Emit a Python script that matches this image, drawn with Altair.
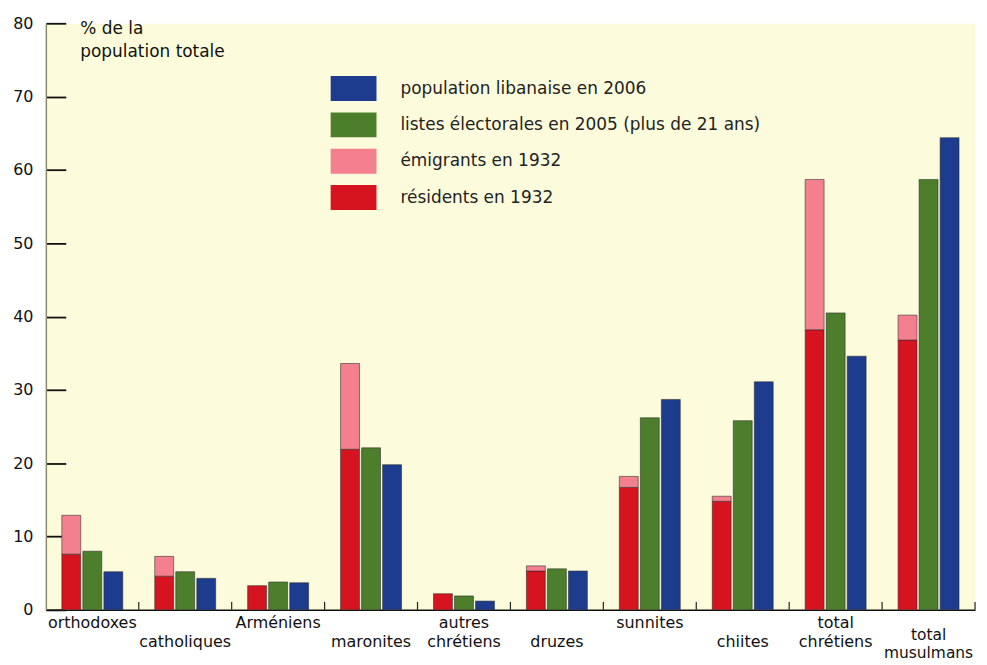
import altair as alt
import pandas as pd

# ---------------- data ----------------
categories = ["orthodoxes", "catholiques", "Arméniens", "maronites", "autres chrétiens",
              "druzes", "sunnites", "chiites", "total chrétiens", "total musulmans"]
label_lines = [["orthodoxes"], ["", "catholiques"], ["Arméniens"], ["", "maronites"],
               ["autres", "chrétiens"], ["", "druzes"], ["sunnites"], ["", "chiites"],
               ["total", "chrétiens"], ["total", "musulmans"]]
residents_1932 = [7.6, 4.6, 3.3, 21.9, 2.2, 5.3, 16.7, 14.8, 38.2, 36.8]
emigrants_1932 = [5.3, 2.7, 0.0, 11.7, 0.0, 0.7, 1.5, 0.7, 20.5, 3.4]
electoral_2005 = [8.0, 5.2, 3.8, 22.1, 1.9, 5.6, 26.2, 25.8, 40.5, 58.7]
population_2006 = [5.2, 4.3, 3.7, 19.8, 1.2, 5.3, 28.7, 31.1, 34.6, 64.4]
series_names = ["population libanaise en 2006",
                "listes électorales en 2005 (plus de 21 ans)",
                "émigrants en 1932",
                "résidents en 1932"]
series_colors = ["#1e3c8e", "#4c7e2c", "#f4808f", "#d6141f"]
groups = ["1932", "2005", "2006"]
y_ticks = [0, 10, 20, 30, 40, 50, 60, 70, 80]
axis_title = ["% de la", "population totale"]

# ---------------- tables ----------------
rows = []
for i, c in enumerate(categories):
    r, e = residents_1932[i], emigrants_1932[i]
    rows.append(dict(cat=c, grp=groups[0], series=series_names[3], lo=0.0, hi=r))
    if e > 0:
        rows.append(dict(cat=c, grp=groups[0], series=series_names[2], lo=r, hi=r + e))
    rows.append(dict(cat=c, grp=groups[1], series=series_names[1], lo=0.0, hi=electoral_2005[i]))
    rows.append(dict(cat=c, grp=groups[2], series=series_names[0], lo=0.0, hi=population_2006[i]))
df = pd.DataFrame(rows)
labels_df = pd.DataFrame({"cat": categories, "lines": label_lines})

W, H = 933, 589
FONT = "DejaVu Sans"
LAST = categories[-1]

x_scale = alt.Scale(domain=categories, paddingInner=0, paddingOuter=0)
y_scale = alt.Scale(domain=[0, 80], nice=False)

bars = alt.Chart(df).mark_bar(stroke="#2a2a2a", strokeWidth=0.8, strokeOpacity=0.7).encode(
    x=alt.X("cat:N", scale=x_scale, sort=categories,
            axis=alt.Axis(labels=False, ticks=False, title=None,
                          domainColor="#111111", domainWidth=1.5)),
    xOffset=alt.XOffset("grp:N", scale=alt.Scale(domain=groups, paddingInner=0.1, paddingOuter=0.76)),
    y=alt.Y("lo:Q", scale=y_scale,
            axis=alt.Axis(values=y_ticks, tickSize=0,
                          # short inward ticks drawn as dashed grid segments
                          grid=True, gridDash=[20, 4000], gridColor="#111111",
                          gridWidth=1.8, gridOpacity=1,
                          labelFont=FONT, labelFontSize=16, labelColor="#111111", labelPadding=13,
                          domainColor="#8a8a70", domainWidth=1.5,
                          title=axis_title, titleAngle=0, titleAlign="left",
                          titleBaseline="alphabetic", titleX=34, titleY=10,
                          titleFont=FONT, titleFontSize=17, titleFontWeight="normal",
                          titleColor="#111111", titleLineHeight=23)),
    y2="hi:Q",
    color=alt.Color("series:N",
                    scale=alt.Scale(domain=series_names, range=series_colors),
                    legend=alt.Legend(title=None, orient="none", legendX=296.5, legendY=53,
                                      symbolType="M-1.84,-1L1.84,-1L1.84,1L-1.84,1Z",
                                      symbolSize=625, symbolStrokeWidth=0, symbolOpacity=1,
                                      labelFont=FONT, labelFontSize=17, labelColor="#222222",
                                      labelOffset=34.5, rowPadding=11.5, padding=0,
                                      labelLimit=500)),
)

separators = alt.Chart(labels_df).mark_rule(color="#222222", strokeWidth=1.2).encode(
    x=alt.X("cat:N", bandPosition=1, scale=x_scale),
    y=alt.value(H),
    y2=alt.value(H - 8),
)

texts_main = alt.Chart(labels_df).transform_filter(
    alt.datum.cat != LAST
).mark_text(font=FONT, fontSize=16, baseline="alphabetic",
            lineHeight=19, color="#111111", align="center").encode(
    x=alt.X("cat:N", scale=x_scale),
    y=alt.value(H + 18),
    text="lines",
)

texts_last = alt.Chart(labels_df).transform_filter(
    alt.datum.cat == LAST
).mark_text(font=FONT, fontSize=15.5, baseline="alphabetic",
            lineHeight=18, color="#111111", align="center").encode(
    x=alt.X("cat:N", scale=x_scale),
    y=alt.value(H + 30),
    text="lines",
)

chart = alt.layer(bars, separators, texts_main, texts_last).properties(
    width=W, height=H,
    padding={"left": 38, "top": 14, "right": 4, "bottom": 54},
    autosize=alt.AutoSizeParams(type="none"),
    background="white",
).configure_view(fill="#fcfcdc", stroke="transparent")

chart.save("out.html", embed_options={"renderer": "svg", "actions": False})
